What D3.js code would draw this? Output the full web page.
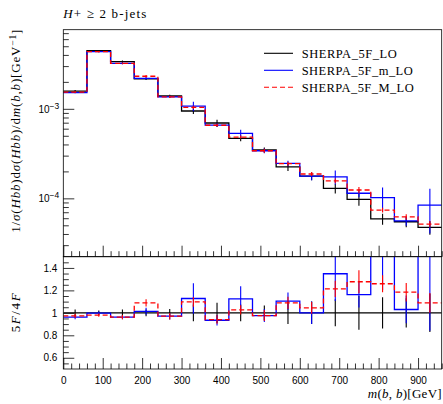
<!DOCTYPE html>
<html>
<head>
<meta charset="utf-8">
<script src="https://cdn.jsdelivr.net/npm/d3@7"></script>
<style>
  body { margin: 0; background: #fff; }
  svg { display: block; font-family: "Liberation Serif", "DejaVu Serif", serif; }
</style>
</head>
<body>
<svg id="chart" width="443" height="404"></svg>
<script>
// bin edges in GeV (16 bins of 60)
const binEdges = [0, 60, 120, 180, 240, 300, 360, 420, 480, 540, 600, 660, 720, 780, 840, 900, 960];

// normalised distributions, GeV^-1
const sherpaLO = [1.58e-3, 4.46e-3, 3.36e-3, 2.16e-3, 1.39e-3, 9.45e-4, 6.94e-4, 4.68e-4,
                  3.47e-4, 2.25e-4, 1.77e-4, 1.29e-4, 9.75e-5, 5.91e-5, 5.48e-5, 4.74e-5];
const sherpaMLow = [1.52e-3, 4.35e-3, 3.22e-3, 2.19e-3, 1.36e-3, 1.07e-3, 6.59e-4, 5.32e-4,
                    3.40e-4, 2.46e-4, 1.77e-4, 1.74e-4, 1.14e-4, 1.02e-4, 5.60e-5, 8.42e-5];
const sherpaMHigh = [1.54e-3, 4.35e-3, 3.22e-3, 2.31e-3, 1.36e-3, 1.04e-3, 6.55e-4, 4.84e-4,
                     3.40e-4, 2.44e-4, 1.87e-4, 1.57e-4, 1.24e-4, 7.40e-5, 6.22e-5, 5.16e-5];

// relative uncertainties
const errLO = [0.03, 0.02, 0.03, 0.03, 0.035, 0.075, 0.09, 0.075, 0.065, 0.1, 0.1, 0.12, 0.15, 0.14, 0.13, 0.17];
const errMLow = [0.02, 0.015, 0.02, 0.03, 0.03, 0.12, 0.05, 0.1, 0.06, 0.07, 0.1, 0.18, 0.1, 0.3, 0.12, 0.52];
const errMHigh = [0.02, 0.015, 0.02, 0.03, 0.03, 0.04, 0.04, 0.04, 0.05, 0.05, 0.05, 0.06, 0.08, 0.06, 0.07, 0.08];

// ratios to SHERPA_5F_LO (5F/4F panel)
const ratioMLow = [0.962, 0.997, 0.962, 1.014, 0.97, 1.128, 0.934, 1.125,
                   0.976, 1.104, 1.0, 1.348, 1.163, 1.72, 1.03, 1.75];
const ratioMHigh = [0.973, 0.979, 0.962, 1.089, 0.97, 1.098, 0.94, 1.027,
                    0.976, 1.089, 1.045, 1.214, 1.277, 1.259, 1.184, 1.089];

const xMajorTicks = [0, 100, 200, 300, 400, 500, 600, 700, 800, 900];
const ratioMajorTicks = [0.6, 0.8, 1, 1.2, 1.4];
const legendLabels = ['SHERPA_5F_LO', 'SHERPA_5F_m_LO', 'SHERPA_5F_M_LO'];

const series = [
    {name: legendLabels[0], values: sherpaLO, err: errLO, ratio: sherpaLO.map(() => 1), color: '#000', dash: null, len: 95},
    {name: legendLabels[1], values: sherpaMLow, err: errMLow, ratio: ratioMLow, color: '#0000ff', dash: null, len: 111},
    {name: legendLabels[2], values: sherpaMHigh, err: errMHigh, ratio: ratioMHigh, color: '#ff0000', dash: '5,3', len: 112}
];

const svg = d3.select('#chart');

const left = 63.3, right = 441.7;
const topY = 29.7, midY = 256.7, botY = 369;

const x = d3.scaleLinear().domain([0, 960]).range([left, right]);
const y = d3.scaleLog().domain([2.23e-5, 7.65e-3]).range([midY, topY]);
const yr = d3.scaleLinear().domain([0.5, 1.5]).range([botY, midY]);

const defs = svg.append('defs');
defs.append('clipPath').attr('id', 'clip-top')
  .append('rect').attr('x', left).attr('y', topY).attr('width', right - left).attr('height', midY - topY);
defs.append('clipPath').attr('id', 'clip-bot')
  .append('rect').attr('x', left).attr('y', midY).attr('width', right - left).attr('height', botY - midY);

// histogram outline as a step path
function stepPoints(vals) {
    const pts = [];
    vals.forEach((v, i) => {
        pts.push([binEdges[i], v]);
        pts.push([binEdges[i + 1], v]);
    });
    return pts;
}

function styleAxis(g) {
    g.select('.domain').remove();
    g.selectAll('line').attr('stroke', '#000').attr('stroke-width', 0.8);
    g.selectAll('text').attr('fill', '#000').attr('font-family', null);
}

// ---------- upper panel ----------
const upper = svg.append('g').attr('clip-path', 'url(#clip-top)');
const lineTop = d3.line().x((d) => x(d[0])).y((d) => y(d[1]));

series.forEach((s) => {
    upper.append('path')
        .attr('d', lineTop(stepPoints(s.values)))
        .attr('fill', 'none')
        .attr('stroke', s.color)
        .attr('stroke-width', 1.3)
        .attr('stroke-dasharray', s.dash);
    upper.selectAll(null)
      .data(s.values)
      .enter()
      .append('line')
        .attr('x1', (d, i) => x((binEdges[i] + binEdges[i + 1]) / 2))
        .attr('x2', (d, i) => x((binEdges[i] + binEdges[i + 1]) / 2))
        .attr('y1', (d, i) => y(d * (1 + s.err[i])))
        .attr('y2', (d, i) => y(d * (1 - s.err[i])))
        .attr('stroke', s.color)
        .attr('stroke-width', 1.1);
});

// log axis: majors with 10^n labels, minors without
const logTicks = y.ticks();
const majorLog = logTicks.filter((t) => Math.abs(Math.log10(t) - Math.round(Math.log10(t))) < 1e-6);
const minorLog = logTicks.filter((t) => !majorLog.includes(t));

svg.append('g')
    .attr('transform', `translate(${left},0)`)
    .call(d3.axisLeft(y).tickValues(minorLog).tickSize(-5.5).tickFormat(''))
    .call(styleAxis);

const yMajor = svg.append('g')
    .attr('transform', `translate(${left},0)`)
    .attr('font-size', 11.5)
    .call(d3.axisLeft(y).tickValues(majorLog).tickSize(-11).tickPadding(4))
    .call(styleAxis);
yMajor.selectAll('text').each(function(d) {
    // eslint-disable-next-line no-invalid-this
    const t = d3.select(this).text(null);
    t.append('tspan').text('10');
    t.append('tspan').attr('dy', '-0.45em').attr('font-size', 8.5).text('\u2212' + Math.abs(Math.round(Math.log10(d))));
});

// upper panel bottom ticks
svg.append('g')
    .attr('transform', `translate(0,${midY})`)
    .call(d3.axisBottom(x).tickValues(d3.range(0, 961, 20).filter((v) => v % 100 !== 0)).tickSize(-5.5).tickFormat(''))
    .call(styleAxis);
svg.append('g')
    .attr('transform', `translate(0,${midY})`)
    .call(d3.axisBottom(x).tickValues(xMajorTicks).tickSize(-11).tickFormat(''))
    .call(styleAxis);

svg.append('rect')
    .attr('x', left).attr('y', topY)
    .attr('width', right - left).attr('height', midY - topY)
    .attr('fill', 'none').attr('stroke', '#000').attr('stroke-width', 0.8);

// title
const title = svg.append('text').attr('x', left).attr('y', 18).attr('font-size', 13)
    .attr('textLength', 83).attr('lengthAdjust', 'spacing');
title.append('tspan').attr('font-style', 'italic').text('H');
title.append('tspan').text('+ \u2265 2 b-jets');

// upper y label
const yLab = svg.append('text')
    .attr('transform', `translate(20,${topY}) rotate(-90)`)
    .attr('text-anchor', 'end')
    .attr('font-size', 13)
    .attr('textLength', 203).attr('lengthAdjust', 'spacing');
[['1/', false], ['\u03c3', true], ['(', false], ['Hbb', true], [')d', false], ['\u03c3', true],
 ['(', false], ['Hbb', true], [')/d', false], ['m', true], ['(', false], ['b', true], [',', false],
 ['b', true], [')[GeV', false]].forEach(([str, it]) => {
    yLab.append('tspan').attr('font-style', it ? 'italic' : null).text(str);
});
yLab.append('tspan').attr('dy', '-0.4em').attr('font-size', 9.5).text('\u22121');
yLab.append('tspan').attr('dy', '0.4em').text(']');

// legend
const legend = svg.append('g').attr('font-size', 12.5);
series.forEach((s, i) => {
    const ly = 53.3 + i * 17;
    legend.append('line')
        .attr('x1', 264).attr('x2', 293).attr('y1', ly).attr('y2', ly)
        .attr('stroke', s.color).attr('stroke-width', 1.1)
        .attr('stroke-dasharray', s.dash);
    legend.append('text')
        .attr('x', 301.7).attr('y', ly).attr('dy', '0.35em')
        .attr('textLength', s.len).attr('lengthAdjust', 'spacing')
        .text(s.name);
});

// ---------- ratio panel ----------
const lower = svg.append('g').attr('clip-path', 'url(#clip-bot)');
const lineBot = d3.line().x((d) => x(d[0])).y((d) => yr(d[1]));

series.forEach((s) => {
    lower.append('path')
        .attr('d', lineBot(stepPoints(s.ratio)))
        .attr('fill', 'none')
        .attr('stroke', s.color)
        .attr('stroke-width', 1.3)
        .attr('stroke-dasharray', s.dash);
    lower.selectAll(null)
      .data(s.ratio)
      .enter()
      .append('line')
        .attr('x1', (d, i) => x((binEdges[i] + binEdges[i + 1]) / 2))
        .attr('x2', (d, i) => x((binEdges[i] + binEdges[i + 1]) / 2))
        .attr('y1', (d, i) => yr(d * (1 + s.err[i])))
        .attr('y2', (d, i) => yr(d * (1 - s.err[i])))
        .attr('stroke', s.color)
        .attr('stroke-width', 1.1);
});

svg.append('g')
    .attr('transform', `translate(${left},0)`)
    .call(d3.axisLeft(yr).tickValues(d3.range(0.55, 1.5, 0.05).filter((v) => Math.abs(v * 5 - Math.round(v * 5)) > 1e-6)).tickSize(-5.5).tickFormat(''))
    .call(styleAxis);
svg.append('g')
    .attr('transform', `translate(${left},0)`)
    .attr('font-size', 11.5)
    .call(d3.axisLeft(yr).tickValues(ratioMajorTicks).tickSize(-11).tickPadding(6)
        .tickFormat((d) => (d === 1 ? '1' : d3.format('.1f')(d))))
    .call(styleAxis);

svg.append('g')
    .attr('transform', `translate(0,${botY})`)
    .call(d3.axisBottom(x).tickValues(d3.range(0, 961, 20).filter((v) => v % 100 !== 0)).tickSize(-5.5).tickFormat(''))
    .call(styleAxis);
svg.append('g')
    .attr('transform', `translate(0,${botY})`)
    .attr('font-size', 11.5)
    .call(d3.axisBottom(x).tickValues(xMajorTicks).tickSize(-11).tickPadding(8))
    .call(styleAxis);

svg.append('rect')
    .attr('x', left).attr('y', midY)
    .attr('width', right - left).attr('height', botY - midY)
    .attr('fill', 'none').attr('stroke', '#000').attr('stroke-width', 0.8);

// ratio y label
const rLab = svg.append('text')
    .attr('transform', `translate(20,${yr(1)}) rotate(-90)`)
    .attr('text-anchor', 'middle')
    .attr('font-size', 13)
    .attr('textLength', 39).attr('lengthAdjust', 'spacing');
rLab.append('tspan').text('5');
rLab.append('tspan').attr('font-style', 'italic').text('F');
rLab.append('tspan').text('/4');
rLab.append('tspan').attr('font-style', 'italic').text('F');

// x label
const xLab = svg.append('text')
    .attr('x', right).attr('y', 398)
    .attr('text-anchor', 'end')
    .attr('font-size', 13)
    .attr('textLength', 74).attr('lengthAdjust', 'spacing');
[['m', true], ['(', false], ['b', true], [', ', false], ['b', true], [')[GeV]', false]].forEach(([str, it]) => {
    xLab.append('tspan').attr('font-style', it ? 'italic' : null).text(str);
});
</script>
</body>
</html>
